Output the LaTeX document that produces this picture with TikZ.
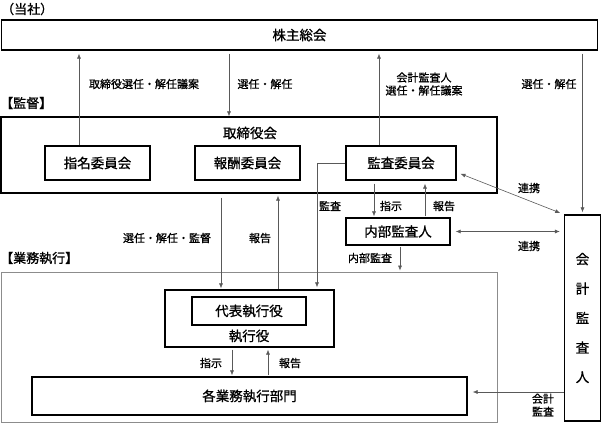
\documentclass[tikz,border=0pt]{standalone}
\usepackage{fontspec}
\setmainfont{Noto Sans CJK JP}[FakeBold=1]
\usetikzlibrary{arrows.meta}
\usetikzlibrary{calc}
\usetikzlibrary{positioning}

\begin{document}
\begin{tikzpicture}[
    x=1pt, y=-1pt,
    box/.style={draw, line width=1.2pt, inner sep=0pt,
      font=\fontsize{13.5}{15}\selectfont},
    grp/.style={font=\fontsize{13}{14}\selectfont, inner sep=0pt, anchor=west},
    lbl/.style={font=\fontsize{11}{13}\selectfont, inner sep=1pt, align=center},
    conn/.style={draw=black!65, line width=0.6pt},
    arr/.style={conn, -{Latex[length=5pt,width=4pt]}},
    darr/.style={conn, {Latex[length=5pt,width=4pt]}-{Latex[length=5pt,width=4pt]}}
  ]
  \useasboundingbox (0,0) rectangle (603,424);

  % groups
  \node [grp] (tousha) at (1,9) {（当社）};
  \node [grp] (kantoku) at (0,103) {【監督】};
  \node [grp] (shikkolbl) at (0,258) {【業務執行】};
  \node [draw=black!45, line width=0.8pt, minimum width=496, minimum height=150] (gyomu) at (249,347) {};

  % boxes
  \node [box, minimum width=596, minimum height=30] (kabu) at (299.5,35) {株主総会};
  \node [box, minimum width=496, minimum height=76] (tori) at (249,155) {};
  \node [font=\fontsize{13.5}{15}\selectfont, inner sep=0pt] (torilbl) at (250,133) {取締役会};
  \node [box, minimum width=105, minimum height=34] (shimei) at (97.5,163) {指名委員会};
  \node [box, minimum width=105, minimum height=34] (hoshu) at (247.5,163) {報酬委員会};
  \node [box, minimum width=110, minimum height=34] (kansa) at (401,163) {監査委員会};
  \node [box, minimum width=104, minimum height=27] (naibu) at (398,231.5) {内部監査人};
  \node [box, minimum width=36, minimum height=206, align=center,
    font=\fontsize{13.5}{29.5}\selectfont] (kaikei) at (582.5,318) {会\\計\\監\\査\\人};
  \node [box, minimum width=169, minimum height=57] (shikko) at (249.5,318.5) {};
  \node [box, minimum width=114, minimum height=28] (daihyo) at (249,311) {代表執行役};
  \node [font=\fontsize{13.5}{15}\selectfont, inner sep=0pt] (shikkoyaku) at (249,336) {執行役};
  \node [box, minimum width=435, minimum height=38] (bumon) at (249.5,396) {各業務執行部門};

  % shareholders
  \draw [arr, shorten >=3pt] ([xshift=-18.5pt]shimei.north) -- ([xshift=-18.5pt]shimei.north |- kabu.south);
  \node [lbl] (l1) at (144,84) {取締役選任・解任議案};
  \draw [arr, shorten <=3pt] ([xshift=-18.5pt]hoshu.north |- kabu.south) -- ([xshift=-18.5pt]hoshu.north |- tori.north);
  \node [lbl] (l2) at (265,84) {選任・解任};
  \draw [arr, shorten >=3pt] ([xshift=-22pt]kansa.north) -- ([xshift=-22pt]kansa.north |- kabu.south);
  \node [lbl] (l3) at (424,84) {会計監査人\\選任・解任議案};
  \draw [arr, shorten <=3pt, shorten >=2pt] (kaikei.north |- kabu.south) -- (kaikei.north);
  \node [lbl] (l4) at (549,84) {選任・解任};

  % audit committee
  \draw [arr, shorten >=2pt] (kansa.west) -| ([xshift=67.5pt]shikko.north);
  \node [lbl] (l5) at (330,206) {監査};
  \draw [arr, shorten <=3pt, shorten >=1pt] ([xshift=-27pt]kansa.south) -- ([xshift=-27pt]kansa.south |- naibu.north);
  \node [lbl] (l6) at (391,206) {指示};
  \draw [arr, shorten >=3pt, shorten <=1pt] ([xshift=27pt]naibu.north) -- ([xshift=27pt]naibu.north |- kansa.south);
  \node [lbl] (l7) at (444,206) {報告};
  \draw [darr, shorten <=2pt, shorten >=4pt] ([shift={(2pt,-10pt)}]kansa.east) -- (kaikei.north west);
  \node [lbl] (l8) at (529,188) {連携};
  \draw [darr, shorten <=5pt, shorten >=4pt] (naibu.east) -- (naibu.east -| kaikei.west);
  \node [lbl] (l9) at (529,246) {連携};
  \draw [arr, shorten <=1pt, shorten >=1pt] ([xshift=2pt]naibu.south) -- ([xshift=2pt]naibu.south |- gyomu.north);
  \node [lbl] (l10) at (370,258) {内部監査};

  % execution
  \draw [arr, shorten <=4pt, shorten >=1pt] ([xshift=-28.5pt]shikko.north |- tori.south) -- ([xshift=-28.5pt]shikko.north);
  \node [lbl] (l11) at (167,238) {選任・解任・監督};
  \draw [arr, shorten >=2pt] ([xshift=28.5pt]shikko.north) -- ([xshift=28.5pt]shikko.north |- tori.south);
  \node [lbl] (l12) at (260,238) {報告};
  \draw [arr, shorten <=2pt, shorten >=1pt] ([xshift=-17.5pt]shikko.south) -- ([xshift=-17.5pt]shikko.south |- bumon.north);
  \node [lbl] (l13) at (211,363) {指示};
  \draw [arr, shorten <=1pt, shorten >=2pt] ([xshift=18.5pt]bumon.north -| shikko.south) -- ([xshift=18.5pt]shikko.south);
  \node [lbl] (l14) at (290,363) {報告};
  \draw [arr, shorten >=5pt] ([yshift=4pt]kaikei.west |- bumon.east) -- ([yshift=4pt]bumon.east);
  \node [lbl] (l15) at (543,405) {会計\\監査};

\end{tikzpicture}
\end{document}
